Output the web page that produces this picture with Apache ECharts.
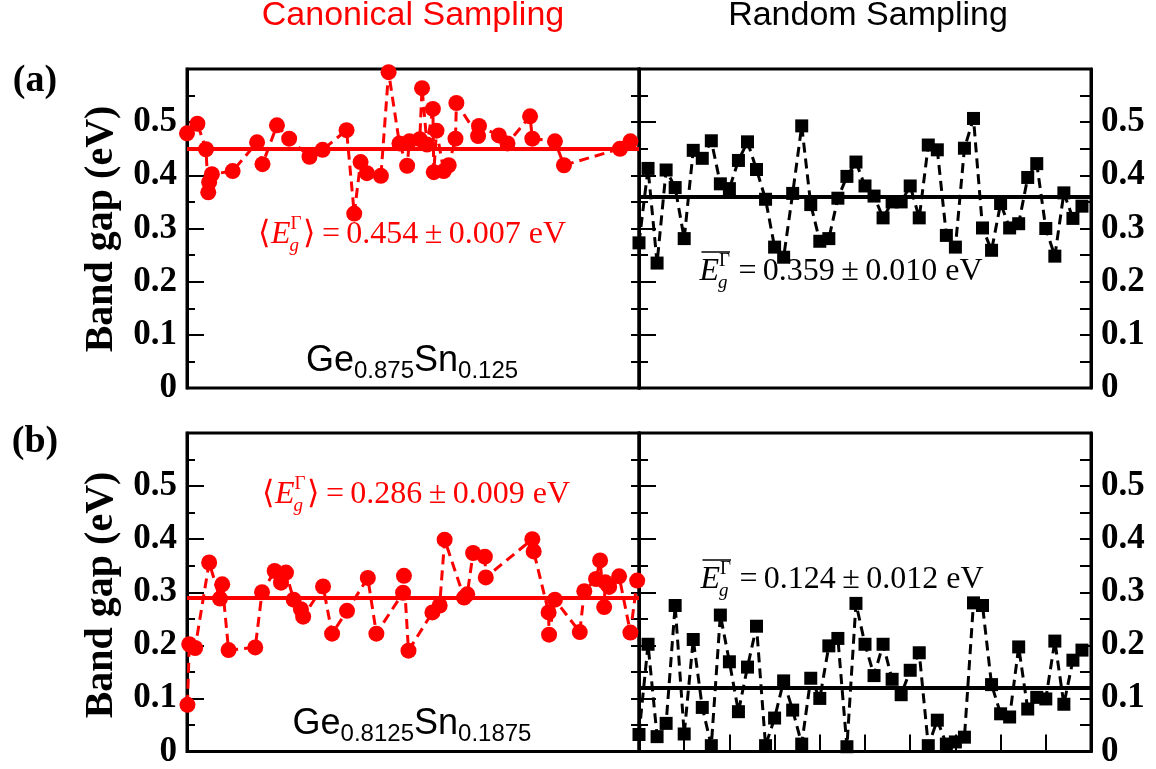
<!DOCTYPE html>
<html>
<head>
<meta charset="utf-8">
<title>Band gap: canonical vs random sampling</title>
<script src="https://cdn.jsdelivr.net/npm/echarts@6/dist/echarts.min.js"></script>
<style>
  html, body { margin: 0; padding: 0; background: #fff; }
  #chart { width: 1156px; height: 769px; }
</style>
</head>
<body>
<div id="chart"></div>
<script>
// (a) Ge0.875Sn0.125, canonical sampling (x = position along the sample axis, 0-100)
const canonAX = [0, 2.3, 4.2, 4.7, 4.9, 5.5, 10.1, 15.5, 16.7, 19.9, 22.6, 27.1, 30.0, 35.3, 37.0, 38.4, 39.8, 42.9, 44.6, 47.0,
  48.7, 49.2, 51.5, 52.0, 53.1, 54.4, 54.6, 55.2, 56.8, 57.9, 59.4, 59.6, 64.4, 64.6, 69.0, 70.9, 75.9, 76.4, 81.4, 83.4, 95.8, 98.1]
const canonAY = [0.479, 0.497, 0.449, 0.368, 0.387, 0.402, 0.408, 0.462, 0.421, 0.494, 0.469, 0.435, 0.448, 0.485, 0.328, 0.425, 0.404, 0.399, 0.594, 0.460,
  0.418, 0.464, 0.468, 0.564, 0.458, 0.525, 0.406, 0.484, 0.408, 0.419, 0.469, 0.536, 0.474, 0.493, 0.475, 0.460, 0.511, 0.469, 0.464, 0.419, 0.450, 0.464]
const canonAMean = 0.454

// (a) random sampling, 50 configurations
const randomA = [0.273, 0.413, 0.235, 0.410, 0.377, 0.281, 0.447, 0.432, 0.465, 0.384,
  0.375, 0.428, 0.463, 0.411, 0.355, 0.265, 0.246, 0.366, 0.493, 0.345,
  0.276, 0.281, 0.357, 0.398, 0.425, 0.380, 0.361, 0.320, 0.350, 0.350,
  0.380, 0.320, 0.457, 0.448, 0.287, 0.265, 0.451, 0.507, 0.301, 0.259,
  0.347, 0.301, 0.309, 0.396, 0.422, 0.300, 0.248, 0.367, 0.319, 0.342]
const randomAMean = 0.359

// (b) Ge0.8125Sn0.1875, canonical sampling
const canonBX = [0.1, 0.5, 1.8, 4.9, 7.3, 7.8, 9.2, 15.1, 16.6, 19.4, 20.8, 21.9, 23.6, 25.2, 25.7, 30.1, 32.1, 35.4, 40.0, 41.9,
  47.8, 48.0, 49.0, 54.3, 55.9, 57.0, 61.3, 62.0, 63.3, 65.9, 66.1, 76.4, 76.7, 80.0, 80.1, 81.4, 86.9, 87.9, 90.5, 91.4,
  92.3, 92.5, 93.4, 95.6, 98.1, 99.6]
const canonBY = [0.088, 0.202, 0.195, 0.356, 0.288, 0.315, 0.191, 0.196, 0.300, 0.340, 0.318, 0.337, 0.286, 0.268, 0.254, 0.311, 0.222, 0.265, 0.327, 0.222,
  0.299, 0.331, 0.190, 0.262, 0.275, 0.399, 0.290, 0.296, 0.374, 0.367, 0.328, 0.400, 0.377, 0.262, 0.220, 0.286, 0.225, 0.302, 0.325, 0.360,
  0.272, 0.319, 0.310, 0.330, 0.224, 0.322]
const canonBMean = 0.286

// (b) random sampling
const randomB = [0.032, 0.202, 0.028, 0.053, 0.275, 0.033, 0.211, 0.083, 0.011, 0.257,
  0.169, 0.075, 0.159, 0.236, 0.011, 0.063, 0.133, 0.078, 0.014, 0.138,
  0.100, 0.199, 0.213, 0.009, 0.279, 0.202, 0.143, 0.202, 0.136, 0.107,
  0.153, 0.186, 0.011, 0.059, 0.014, 0.018, 0.027, 0.280, 0.275, 0.126,
  0.071, 0.065, 0.197, 0.080, 0.102, 0.099, 0.208, 0.089, 0.172, 0.191]
const randomBMean = 0.124

const yTicks = ['0', '0.1', '0.2', '0.3', '0.4', '0.5']

const RED = '#ff0000'
const BLACK = '#000000'
const SERIF = '"Liberation Serif", "Times New Roman", serif'
const SANS = '"Liberation Sans", Arial, sans-serif'
const THIN = '\u2009'

const chart = echarts.init(document.getElementById('chart'))

// text layout helper: pieces share a baseline, "stack" pieces are drawn on top of each other
const measureCtx = document.createElement('canvas').getContext('2d')
const fontOf = (p) => (p.italic ? 'italic ' : '') + (p.bold ? 'bold ' : '') + p.size + 'px ' + (p.family || SERIF)
const textWidth = (str, font) => { measureCtx.font = font; return measureCtx.measureText(str).width }

const mathText = (cx, baseline, color, pieces) => {
  const items = []
  let x = 0
  let over = null
  pieces.forEach(p => {
    const list = p.stack || [p]
    let adv = 0
    list.forEach(q => {
      const font = fontOf(q)
      items.push({ t: q.t, font, x: x + (q.dx || 0), y: baseline + (q.dy || 0) - 0.34 * q.size })
      adv = Math.max(adv, textWidth(q.t, font) + (q.dx || 0))
    })
    if (p.over) over = { from: over ? over.from : x, to: x + adv, y: baseline - p.over }
    x += adv + (p.gap || 0)
  })
  const x0 = cx - x / 2
  const els = items.map(it => ({
    type: 'text', x: x0 + it.x, y: it.y, silent: true,
    style: { text: it.t, font: it.font, fill: color, align: 'left', verticalAlign: 'middle' }
  }))
  if (over) {
    els.push({
      type: 'line', silent: true,
      shape: { x1: x0 + over.from + 2, y1: over.y, x2: x0 + over.to, y2: over.y },
      style: { stroke: color, lineWidth: 1.5 }
    })
  }
  return els
}

const meanLabel = (cx, baseline, color, value, bracket) => {
  const pieces = []
  if (bracket) pieces.push({ t: '\u27e8', size: 32, gap: 1 })
  pieces.push({ t: 'E', size: 32, italic: true, over: bracket ? 0 : 30 })
  pieces.push({ stack: [{ t: '\u0393', size: 19, dy: -15 }, { t: 'g', size: 19, italic: true, dy: 7, dx: -1 }], over: bracket ? 0 : 30, gap: 2 })
  if (bracket) pieces.push({ t: '\u27e9', size: 32 })
  pieces.push({ t: THIN + '=' + THIN + value.replace(' \u00b1 ', THIN + '\u00b1' + THIN) + ' eV', size: 32 })
  if (bracket) pieces.forEach(p => { delete p.over })
  return mathText(cx, baseline, color, pieces)
}

const alloyLabel = (cx, baseline, ge, sn) => mathText(cx, baseline, BLACK, [
  { t: 'Ge', size: 36, family: SANS },
  { t: ge, size: 24, family: SANS, dy: 7 },
  { t: 'Sn', size: 36, family: SANS },
  { t: sn, size: 24, family: SANS, dy: 7 }
])

// axes
const tickLabel = {
  fontFamily: SERIF, fontWeight: 'bold', fontSize: 35, color: BLACK, margin: 10,
  formatter: (v) => { const i = Math.round(v * 10); return i < yTicks.length ? yTicks[i] : '' }
}

const yAxisDef = (gridIndex, position, showLabel, tickLen, minorLen) => ({
  type: 'value', gridIndex, position, min: 0, max: 0.6, interval: 0.1,
  axisLine: { show: true, lineStyle: { color: BLACK, width: 3 } },
  axisTick: { show: true, inside: true, length: tickLen, lineStyle: { color: BLACK, width: 2 } },
  minorTick: { show: true, inside: true, splitNumber: 2, length: minorLen, lineStyle: { color: BLACK, width: 2 } },
  splitLine: { show: false },
  minorSplitLine: { show: false },
  axisLabel: showLabel ? tickLabel : { show: false }
})

const xAxisDef = (gridIndex, max, ticks) => ({
  type: 'value', gridIndex, min: 0, max, interval: 5,
  axisLine: { show: false },
  axisTick: { show: ticks, inside: true, length: 17, lineStyle: { color: BLACK, width: 2 } },
  axisLabel: { show: false },
  splitLine: { show: false }
})

const gridDef = (left, top, height) => ({
  left, top, width: 452, height, show: true,
  borderColor: BLACK, borderWidth: 3, backgroundColor: 'transparent'
})

const meanLine = (value, color) => ({
  silent: true, symbol: 'none', label: { show: false },
  lineStyle: { color, width: 4, type: 'solid' },
  data: [{ yAxis: value }]
})

const seriesDef = (idx, data, color, symbol, size, mean) => ({
  type: 'line', xAxisIndex: idx, yAxisIndex: idx * 2, data,
  symbol, symbolSize: size, showSymbol: true, clip: false,
  itemStyle: { color },
  lineStyle: { color, width: 3, type: [10, 6] },
  markLine: meanLine(mean, color),
  z: 3
})

const zip = (xs, ys) => xs.map((x, i) => [x, ys[i]])
const indexed = (ys) => ys.map((y, i) => [i, y])

const option = {
  animation: false,
  backgroundColor: '#ffffff',
  grid: [
    gridDef(187, 69, 319),
    gridDef(639, 69, 319),
    gridDef(187, 433, 320),
    gridDef(639, 433, 320)
  ],
  xAxis: [
    xAxisDef(0, 100, false),
    xAxisDef(1, 50, false),
    xAxisDef(2, 100, false),
    xAxisDef(3, 50, true)
  ],
  yAxis: [
    yAxisDef(0, 'left', true, 17, 8), yAxisDef(0, 'right', false, 8, 8),
    yAxisDef(1, 'left', false, 17, 9), yAxisDef(1, 'right', true, 11, 11),
    yAxisDef(2, 'left', true, 17, 8), yAxisDef(2, 'right', false, 8, 8),
    yAxisDef(3, 'left', false, 17, 9), yAxisDef(3, 'right', true, 11, 11)
  ],
  series: [
    seriesDef(0, zip(canonAX, canonAY), RED, 'circle', 16, canonAMean),
    seriesDef(1, indexed(randomA), BLACK, 'rect', 13, randomAMean),
    seriesDef(2, zip(canonBX, canonBY), RED, 'circle', 16, canonBMean),
    seriesDef(3, indexed(randomB), BLACK, 'rect', 13, randomBMean)
  ],
  graphic: [
    { type: 'text', x: 413, y: 16, silent: true, style: { text: 'Canonical Sampling', font: '34px ' + SANS, fill: RED, align: 'center', verticalAlign: 'middle' } },
    { type: 'text', x: 868, y: 16, silent: true, style: { text: 'Random Sampling', font: '34px ' + SANS, fill: BLACK, align: 'center', verticalAlign: 'middle' } },
    { type: 'text', x: 35, y: 81, silent: true, style: { text: '(a)', font: 'bold 38px ' + SERIF, fill: BLACK, align: 'center', verticalAlign: 'middle' } },
    { type: 'text', x: 35, y: 442, silent: true, style: { text: '(b)', font: 'bold 38px ' + SERIF, fill: BLACK, align: 'center', verticalAlign: 'middle' } },
    { type: 'text', x: 102, y: 229, rotation: Math.PI / 2, silent: true, style: { text: 'Band gap (eV)', font: 'bold 40px ' + SERIF, fill: BLACK, align: 'center', verticalAlign: 'middle' } },
    { type: 'text', x: 102, y: 595, rotation: Math.PI / 2, silent: true, style: { text: 'Band gap (eV)', font: 'bold 40px ' + SERIF, fill: BLACK, align: 'center', verticalAlign: 'middle' } },
    ...meanLabel(412, 245, RED, '0.454 \u00b1 0.007', true),
    ...meanLabel(841, 282, BLACK, '0.359 \u00b1 0.010', false),
    ...meanLabel(416, 505, RED, '0.286 \u00b1 0.009', true),
    ...meanLabel(842, 590, BLACK, '0.124 \u00b1 0.012', false),
    ...alloyLabel(412, 373, '0.875', '0.125'),
    ...alloyLabel(412, 736, '0.8125', '0.1875')
  ]
}

chart.setOption(option)
window.addEventListener('resize', () => chart.resize())
</script>
</body>
</html>
